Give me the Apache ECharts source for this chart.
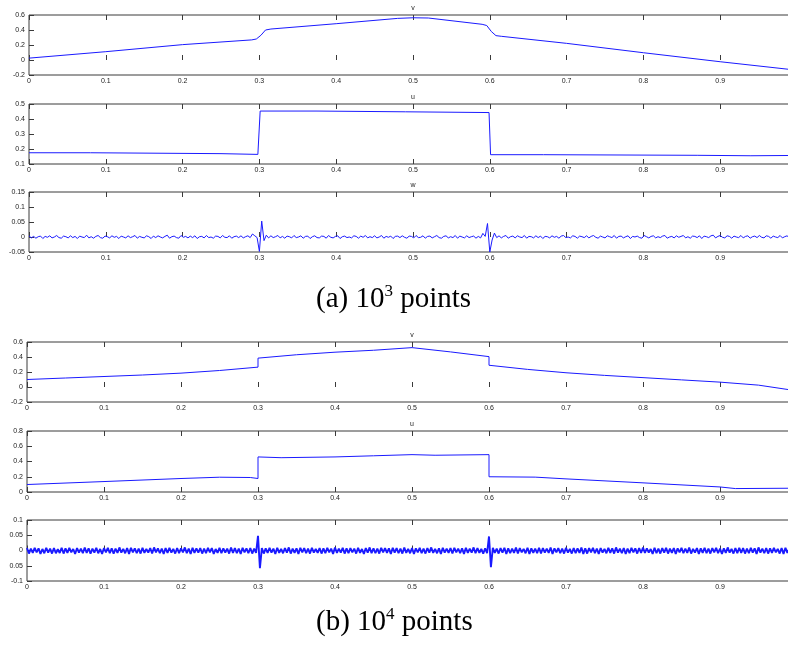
<!DOCTYPE html>
<html><head><meta charset="utf-8">
<script src="https://cdn.jsdelivr.net/npm/echarts@6/dist/echarts.min.js"></script>
<style>html,body{margin:0;padding:0;background:#fff;overflow:hidden;}#c{width:820px;height:645px;}</style>
</head><body><div id="c"></div>
<script>
// ---- data (a) 10^3 points ----
const vAx = [0, 0.1, 0.2, 0.29, 0.296, 0.302, 0.308, 0.315, 0.4, 0.48, 0.5, 0.52, 0.59, 0.596, 0.602, 0.608, 0.615, 0.7, 0.8, 0.9, 0.999];
const vAy = [0.025, 0.111, 0.205, 0.268, 0.28, 0.33, 0.40, 0.413, 0.484, 0.555, 0.563, 0.56, 0.476, 0.46, 0.38, 0.325, 0.316, 0.222, 0.097, -0.023, -0.135];
const uAx = [0, 0.08, 0.08, 0.25, 0.25, 0.298, 0.301, 0.375, 0.375, 0.49, 0.49, 0.599, 0.601, 0.67, 0.67, 0.87, 0.87, 0.94, 0.94, 0.999];
const uAy = [0.175, 0.175, 0.169, 0.169, 0.164, 0.164, 0.453, 0.453, 0.448, 0.448, 0.443, 0.443, 0.162, 0.162, 0.158, 0.158, 0.155, 0.155, 0.157, 0.157];
const wAstep = 0.003;
const wA = [
.004,-.003,.002,-.004,.001,.003,-.005,.002,-.001,.004,
-.003,.000,.005,-.002,-.004,.003,.001,-.003,.004,-.002,
.002,-.005,.003,.000,-.002,.006,-.003,.001,-.004,.002,
.005,-.002,-.004,.003,.001,-.003,.004,-.001,.002,-.005,
.003,.000,-.003,.004,-.002,.001,.005,-.004,.002,-.001,
-.003,.004,.001,-.005,.003,-.002,.004,.000,-.003,.002,
.006,-.004,.001,.003,-.002,-.004,.005,-.001,.002,-.003,
.003,-.002,.004,-.005,.001,.002,-.003,.005,-.002,.000,
-.004,.003,.002,-.003,.005,-.001,-.002,.004,-.004,.001,
.003,-.002,.004,-.003,.001,.004,-.002,.010,.004,-.002,
-.048,.053,-.012,.006,-.003,.004,-.002,.001,.005,-.003,
.002,-.004,.003,.001,-.003,.005,-.002,.000,.004,-.004,
.002,.003,-.005,.001,.004,-.002,-.003,.003,.002,-.004,
.005,-.001,-.003,.002,.004,-.005,.001,.003,-.002,.000,
-.003,.004,.002,-.004,.003,-.001,.005,-.003,.001,-.002,
.004,-.003,.000,.005,-.004,.002,-.001,.003,-.005,.002,
.003,-.002,.004,-.001,-.004,.003,.002,-.003,.005,-.002,
-.001,.004,-.004,.002,.003,-.003,.001,.005,-.002,-.004,
.002,.004,-.003,.001,-.002,.005,-.004,.003,.000,-.003,
.004,-.002,.001,.003,-.004,.002,-.003,.012,.002,.045,
-.050,-.010,.013,-.002,.004,-.003,.002,.005,-.004,.001,
.003,-.003,.004,.000,-.002,.005,-.004,.002,.001,-.003,
.004,-.002,.003,-.005,.002,.001,-.003,.004,-.001,.002,
-.004,.003,.005,-.002,.000,-.003,.004,.002,-.004,.003,
.001,-.002,.004,-.003,.002,.005,-.001,-.004,.003,.000,
-.003,.004,.001,-.002,.005,-.004,.002,.003,-.003,.001,
.004,-.005,.002,.000,.003,-.002,-.004,.005,.001,-.003,
.002,.004,-.003,.001,-.002,.003,.005,-.004,.000,.002,
-.003,.004,-.001,.002,.005,-.003,.001,-.004,.003,.002,
-.002,.004,-.005,.003,.001,-.002,.004,.006,-.003,.002,
.005,-.001,-.003,.004,.002,-.004,.003,.000,-.002,.005,
-.003,.002,.004,-.004,.001,.003,-.002,.005,-.001,-.003,
.004,.002,-.004,.003,.000,-.002,.005,-.003,.001,.004,
-.002,.003,-.001];
// ---- data (b) 10^4 points ----
const vBx = [0, 0.05, 0.1, 0.15, 0.2, 0.25, 0.3, 0.3, 0.35, 0.4, 0.45, 0.5, 0.55, 0.6, 0.6, 0.65, 0.7, 0.75, 0.8, 0.85, 0.9, 0.95, 0.999];
const vBy = [0.10, 0.12, 0.14, 0.16, 0.185, 0.22, 0.265, 0.385, 0.43, 0.464, 0.49, 0.525, 0.468, 0.405, 0.29, 0.235, 0.19, 0.155, 0.125, 0.095, 0.065, 0.025, -0.05];
const uBx = [0, 0.1, 0.2, 0.25, 0.29, 0.3, 0.3, 0.33, 0.4, 0.45, 0.5, 0.53, 0.6, 0.6, 0.66, 0.7, 0.8, 0.9, 0.92, 0.999];
const uBy = [0.098, 0.137, 0.177, 0.194, 0.19, 0.177, 0.46, 0.45, 0.46, 0.475, 0.49, 0.482, 0.49, 0.2, 0.195, 0.172, 0.12, 0.066, 0.045, 0.05];
const wBstep = 0.0025;
const wB = [
.008,-.010,.006,-.008,.009,-.006,.007,-.011,.005,-.009,
.009,-.007,.006,-.010,.008,-.009,.004,-.008,.009,-.010,
.007,-.008,.009,-.006,.005,-.011,.008,-.007,.006,-.009,
.010,-.008,.007,-.010,.006,-.007,.009,-.009,.005,-.011,
.008,-.006,.009,-.009,.007,-.010,.006,-.008,.010,-.007,
.005,-.009,.008,-.011,.009,-.006,.007,-.009,.006,-.010,
.009,-.008,.005,-.007,.008,-.010,.010,-.006,.007,-.009,
.006,-.011,.008,-.008,.009,-.007,.005,-.010,.008,-.009,
.007,-.006,.010,-.009,.006,-.011,.009,-.008,.007,-.007,
.008,-.010,.006,-.009,.009,-.006,.008,-.011,.005,-.008,
.009,-.009,.007,-.007,.006,-.010,.010,-.008,.008,-.009,
.006,-.011,.009,-.006,.007,-.009,.008,-.010,.006,-.008,
.048,-.058,.008,-.010,.007,-.008,.009,-.007,.006,-.011,
.009,-.008,.005,-.009,.008,-.007,.010,-.010,.006,-.008,
.007,-.011,.009,-.006,.008,-.009,.006,-.010,.009,-.007,
.005,-.008,.008,-.010,.007,-.009,.009,-.006,.006,-.011,
.010,-.008,.006,-.007,.009,-.010,.007,-.009,.008,-.006,
.006,-.010,.009,-.008,.005,-.011,.008,-.007,.010,-.009,
.007,-.009,.006,-.010,.009,-.006,.008,-.008,.007,-.011,
.009,-.007,.008,-.009,.006,-.010,.010,-.008,.005,-.009,
.008,-.011,.007,-.006,.009,-.009,.006,-.010,.008,-.007,
.010,-.008,.005,-.009,.007,-.011,.009,-.007,.006,-.008,
.008,-.010,.009,-.006,.006,-.009,.007,-.011,.009,-.008,
.006,-.007,.010,-.009,.008,-.008,.005,-.010,.007,-.009,
.046,-.055,.009,-.008,.006,-.010,.008,-.007,.009,-.011,
.007,-.009,.006,-.008,.010,-.010,.008,-.006,.005,-.009,
.009,-.011,.007,-.008,.006,-.009,.009,-.010,.008,-.007,
.006,-.008,.010,-.011,.007,-.006,.008,-.009,.006,-.010,
.009,-.007,.005,-.010,.008,-.009,.007,-.008,.010,-.011,
.007,-.010,.008,-.006,.009,-.009,.006,-.011,.008,-.007,
.005,-.009,.009,-.008,.007,-.010,.010,-.007,.006,-.009,
.008,-.011,.006,-.009,.009,-.006,.007,-.010,.008,-.008,
.010,-.008,.007,-.007,.005,-.011,.009,-.009,.006,-.010,
.008,-.007,.009,-.010,.006,-.008,.008,-.011,.007,-.006,
.009,-.009,.006,-.008,.010,-.010,.005,-.007,.008,-.011,
.007,-.008,.009,-.009,.006,-.010,.008,-.006,.009,-.009,
.006,-.011,.007,-.008,.010,-.007,.005,-.010,.008,-.009,
.009,-.008,.008,-.010,.006,-.009,.009,-.007,.007,-.011,
.010,-.007,.006,-.009,.008,-.010,.007,-.008,.009,-.006,
.005,-.010,.008,-.011,.009,-.008,.006,-.009,.007,-.010];
// ---- axis settings (tick values) ----
const panelTitles = ['v', 'u', 'w', 'v', 'u', ''];
const yRanges = [[-0.2, 0.6, 0.2], [0.1, 0.5, 0.1], [-0.05, 0.15, 0.05], [-0.2, 0.6, 0.2], [0, 0.8, 0.2], [-0.1, 0.1, 0.05]];
const wBLabels = ['-0.1', '0.05', '0', '0.05', '0.1'];
const captions = ['(a) 10{s|3} points', '(b) 10{s|4} points'];

const pairs = (xs, ys) => xs.map((x, i) => [x, ys[i]]);
const noise = (arr, step) => arr.map((y, i) => [+(i * step).toFixed(4), y]);
const seriesData = [pairs(vAx, vAy), pairs(uAx, uAy), noise(wA, wAstep), pairs(vBx, vBy), pairs(uBx, uBy), noise(wB, wBstep)];
const lineWidths = [1, 1, 1, 1, 1, 1.9];

const W = 820;
const gridsPos = [
  {left: 29, right: W - 797, top: 15, height: 60},
  {left: 29, right: W - 797, top: 104, height: 60},
  {left: 29, right: W - 797, top: 192, height: 60},
  {left: 27, right: W - 797, top: 342, height: 60},
  {left: 27, right: W - 797, top: 431, height: 61},
  {left: 27, right: W - 797, top: 520, height: 61}
];
const axisColor = '#3a3a3a';
const lblStyle = {fontSize: 7, color: '#222', fontFamily: 'Liberation Sans'};
const grid = [], xAxis = [], yAxis = [], series = [];
gridsPos.forEach((g, i) => {
  grid.push(Object.assign({show: true, borderColor: axisColor, borderWidth: 1, backgroundColor: '#fff'}, g));
  xAxis.push({type: 'value', gridIndex: i, min: 0, max: 1, interval: 0.1, position: 'bottom',
    axisLine: {show: false}, splitLine: {show: false},
    axisTick: {inside: true, length: 5, lineStyle: {color: axisColor}},
    axisLabel: Object.assign({margin: 3, formatter: v => v >= 1 ? '' : String(+v.toFixed(1))}, lblStyle)});
  xAxis.push({type: 'value', gridIndex: i, min: 0, max: 1, interval: 0.1, position: 'top',
    name: panelTitles[i], nameLocation: 'middle', nameGap: 3,
    nameTextStyle: {fontSize: 7, color: '#222', fontFamily: 'Liberation Sans'},
    axisLine: {show: false}, splitLine: {show: false},
    axisTick: {inside: true, length: 5, lineStyle: {color: axisColor}},
    axisLabel: {show: false}});
  const r = yRanges[i];
  yAxis.push({type: 'value', gridIndex: i, min: r[0], max: r[1], interval: r[2],
    axisLine: {show: false}, splitLine: {show: false},
    axisTick: {inside: true, length: 5, lineStyle: {color: axisColor}},
    axisLabel: Object.assign({margin: 4,
      formatter: i === 5 ? (v, idx) => wBLabels[idx] : v => String(+v.toFixed(2))}, lblStyle)});
  series.push({type: 'line', xAxisIndex: 2 * i, yAxisIndex: i, data: seriesData[i],
    showSymbol: false, symbol: 'none', clip: true,
    lineStyle: {color: '#1a1aff', width: lineWidths[i]}, animation: false});
});
const capTops = [283, 606];
const graphic = captions.map((c, k) => ({
  type: 'text', left: 316, top: capTops[k],
  style: {text: c, fontFamily: 'Liberation Serif', fontSize: 29, fill: '#000',
    rich: {s: {fontSize: 17, fontFamily: 'Liberation Serif', padding: [0, 0, 15, 0]}}}
}));
const chart = echarts.init(document.getElementById('c'), null, {renderer: 'canvas'});
chart.setOption({animation: false, grid, xAxis, yAxis, series, graphic});
</script></body></html>
